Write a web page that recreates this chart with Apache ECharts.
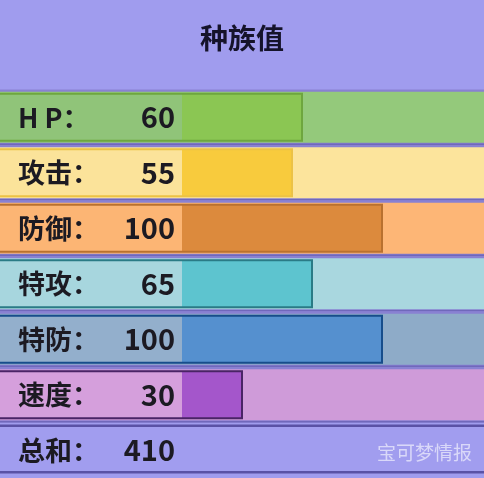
<!DOCTYPE html>
<html>
<head>
<meta charset="utf-8">
<script src="https://cdn.jsdelivr.net/npm/echarts@6/dist/echarts.min.js"></script>
<style>html,body{margin:0;padding:0;background:#a09cee;}#c{width:484px;height:478px;}</style>
</head>
<body>
<div id="c"></div>
<script>
const titleText = '种族值';
const categories = ['H P：', '攻击：', '防御：', '特攻：', '特防：', '速度：', '总和：'];
const statValues = [60, 55, 100, 65, 100, 30];
const totalValue = 410;
const watermark = '宝可梦情报';

const rowColors    = ['#94c97b', '#fce49c', '#fdb676', '#a9d7df', '#8eabc8', '#cf9bd9'];
const labelColors  = ['#90c479', '#fbe39a', '#fcb574', '#a7d6de', '#93afcc', '#d59fdc'];
const barColors    = ['#8bc653', '#f8cb3d', '#dc8a3d', '#5dc4cf', '#5590cf', '#a456cb'];
const borderColors = ['#6ea63f', '#ecc246', '#b9712f', '#2a7b86', '#174d8b', '#4a2466'];

const xMin = -91, xMax = 151;

const chart = echarts.init(document.getElementById('c'), null, {renderer: 'canvas'});

const data = statValues.map((v, i) => [v, i]).concat([[totalValue, statValues.length]]);

chart.setOption({
  backgroundColor: '#a09cee',
  animation: false,
  title: {
    text: titleText, left: 'center', top: 19,
    textStyle: {fontSize: 28, fontWeight: 'bold', color: '#15132a', fontFamily: '"Noto Sans CJK SC"'}
  },
  grid: {left: 0, right: 0, top: 89.5, height: 392},
  xAxis: {type: 'value', min: xMin, max: xMax, show: false},
  yAxis: {type: 'category', data: categories, inverse: true, show: false},
  graphic: [{
    type: 'text', right: 12, top: 443, silent: true, z: 100,
    style: {text: watermark, fill: 'rgba(255,255,255,0.6)', font: '19px "Noto Sans CJK SC"'}
  }],
  series: [{
    type: 'custom',
    data: data,
    encode: {x: 0, y: 1},
    renderItem: function (params, api) {
      const i = params.dataIndex;
      const v = api.value(0);
      const yc = api.coord([0, api.value(1)])[1];
      const band = api.size([0, 1])[1];
      const xL = api.coord([xMin, api.value(1)])[0];
      const xR = api.coord([xMax, api.value(1)])[0];
      const x0 = api.coord([0, api.value(1)])[0];
      const xv = api.coord([v, api.value(1)])[0];
      const children = [];
      const isTotal = i === statValues.length;
      const textFill = '#1c1a22';
      if (!isTotal) {
        const rowH = band - 4.5;
        const barH = rowH - 4;
        children.push({type: 'rect', shape: {x: xL, y: yc - band / 2, width: xR - xL, height: band},
          style: {fill: '#8981d2'}});
        children.push({type: 'rect', shape: {x: xL, y: yc - band / 2 + band - 1.5, width: xR - xL, height: 1.5},
          style: {fill: '#7068bb'}});
        children.push({type: 'rect', shape: {x: xL, y: yc - rowH / 2, width: xR - xL, height: rowH},
          style: {fill: rowColors[i]}});
        children.push({type: 'rect', shape: {x: xL, y: yc - barH / 2, width: x0 - xL, height: barH},
          style: {fill: labelColors[i]}});
        children.push({type: 'rect', shape: {x: x0, y: yc - barH / 2, width: xv - x0, height: barH},
          style: {fill: barColors[i]}});
        children.push({type: 'rect', shape: {x: xL - 2, y: yc - barH / 2, width: xv - xL + 2, height: barH},
          style: {fill: 'none', stroke: borderColors[i], lineWidth: 2}});
      } else {
        const top = yc - band / 2 + 2;
        children.push({type: 'rect', shape: {x: xL, y: top, width: xR - xL, height: 2.5},
          style: {fill: '#5a52a6'}});
        children.push({type: 'rect', shape: {x: xL, y: top + 2.5, width: xR - xL, height: 44},
          style: {fill: '#a19def'}});
        children.push({type: 'rect', shape: {x: xL, y: top + 46.5, width: xR - xL, height: 2.5},
          style: {fill: '#5a52a6'}});
      }
      children.push({type: 'text', style: {
        text: categories[i], x: xL + 18, y: yc,
        textAlign: 'left', textVerticalAlign: 'middle', align: 'left', verticalAlign: 'middle',
        font: 'bold 27px "Noto Sans CJK SC"', fill: textFill}});
      children.push({type: 'text', style: {
        text: String(v), x: x0 - 7, y: yc,
        textAlign: 'right', textVerticalAlign: 'middle', align: 'right', verticalAlign: 'middle',
        font: 'bold 29px "Noto Sans CJK SC"', fill: textFill}});
      return {type: 'group', children: children};
    }
  }]
});
</script>
</body>
</html>
